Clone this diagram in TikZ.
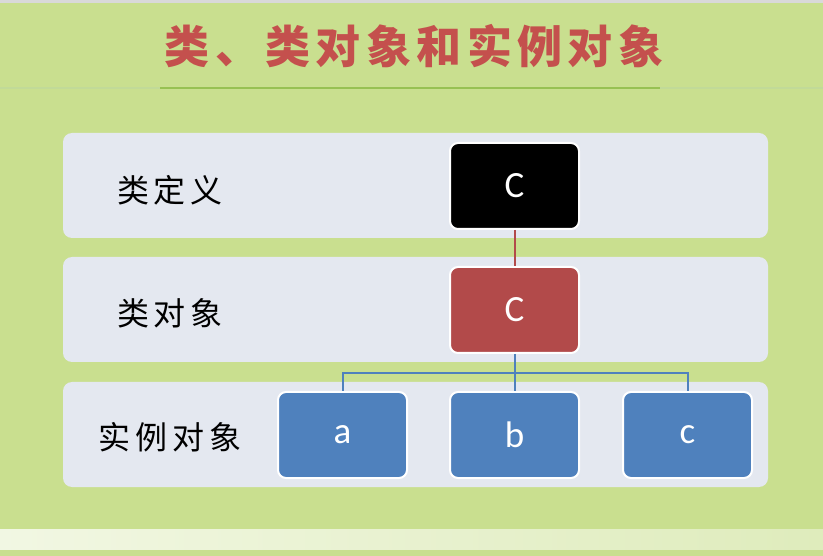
\documentclass[tikz,border=0pt]{standalone}
\usepackage{fontspec}
\setmainfont{Carlito}
\newfontfamily\cjk[LetterSpace=15]{Noto Sans CJK SC}
\newfontfamily\cjktitle[LetterSpace=12]{Noto Sans CJK SC}
\usetikzlibrary{positioning}
\definecolor{bggreen}{HTML}{C9DF8F}
\definecolor{rowgray}{HTML}{E4E8F0}
\definecolor{titlered}{HTML}{C4504D}
\definecolor{clsred}{HTML}{B24A4A}
\definecolor{objblue}{HTML}{4F81BD}
\definecolor{rulegreen}{HTML}{97C153}

\tikzset{
  row/.style={fill=rowgray, rounded corners=9pt},
  box/.style={draw=white, line width=2pt, rounded corners=8pt,
    minimum width=129pt, minimum height=86pt, inner sep=0pt,
    text=white, font=\fontsize{37}{37}\selectfont},
  lbl/.style={font=\cjk\fontsize{32}{32}\selectfont, text=black},
  link/.style={line width=2pt},
}

\begin{document}
\begin{tikzpicture}[x=1pt, y=-1pt]
    \useasboundingbox (0,0) rectangle (823,556);
    \fill[bggreen] (0,0) rectangle (823,556);
    \fill[gray!30] (0,0) rectangle (823,3);

    % title and the rule under it
    \node[font=\cjktitle\bfseries\fontsize{45}{45}\selectfont, text=titlered] (ttl) at (414,46) {类、类对象和实例对象};
    \draw[rulegreen!60, line width=1.5pt] (0,88) -- (823,88);
    \draw[rulegreen, line width=1.5pt] (160,88) -- (660,88);

    % bottom strip
    \shade[left color=white!75!bggreen, right color=white!40!bggreen] (0,529) rectangle (823,549);

    % the three rows
    \fill[row] (63,133) rectangle (768,238);
    \fill[row] (63,257) rectangle (768,362);
    \fill[row] (63,382) rectangle (768,487);

    \node[lbl] (defl) at (170,190) {类定义};
    \node[lbl] (clsl) at (170,313) {类对象};
    \node[lbl] (objl) at (170,437) {实例对象};

    \node[box, fill=black] (def) at (514.5,186) {C};
    \node[box, fill=clsred, below=36pt of def] (cls) {C};
    \node[box, fill=objblue, below=37pt of cls] (b) {b};
    \node[box, fill=objblue, left=41pt of b] (a) {a};
    \node[box, fill=objblue, right=42pt of b] (c) {c};

    \coordinate (bus) at (514.5,373);
    \draw[link, clsred] (def) -- (cls);
    \draw[link, objblue] (cls) -- (b);
    \draw[link, objblue] (a.north) |- (bus) -| (c.north);
\end{tikzpicture}
\end{document}
